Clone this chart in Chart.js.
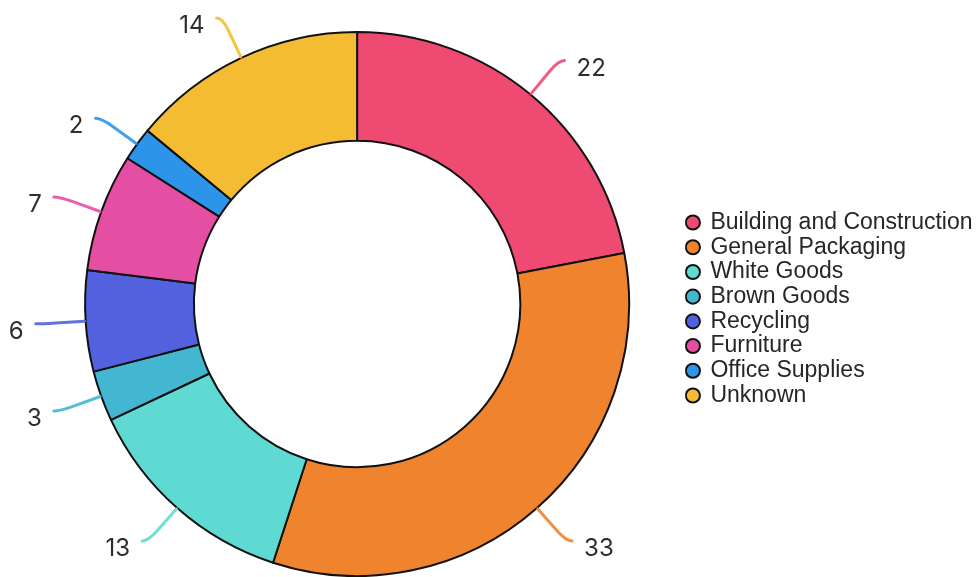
<!DOCTYPE html>
<html lang="en">
<head>
    <meta charset="UTF-8">
    <title>Sector Breakdown</title>
    <script src="https://cdn.jsdelivr.net/npm/chart.js"></script>
    <style>
        html, body { margin: 0; padding: 0; background: #ffffff; overflow: hidden; }
        .chart-wrap { position: relative; width: 979px; height: 577px; }
    </style>
</head>
<body>
    <div class="chart-wrap">
        <canvas id="sectorChart"></canvas>
    </div>

    <script>
        const sectors = ['Building and Construction', 'General Packaging', 'White Goods', 'Brown Goods',
                         'Recycling', 'Furniture', 'Office Supplies', 'Unknown'];
        const counts = [22, 33, 13, 3, 6, 7, 2, 14];
        const sectorColors = ['#EE4A72', '#F0842E', '#5FDAD2', '#43B6D2', '#5262DE', '#E54FA3', '#2C95EA', '#F3BC33'];

        // value labels outside each slice, joined by a curved leader line
        const outsideLabels = {
            id: 'outsideLabels',
            afterDatasetsDraw(chart) {
                const ctx = chart.ctx;
                const meta = chart.getDatasetMeta(0);
                ctx.save();
                meta.data.forEach((arc, i) => {
                    const mid = (arc.startAngle + arc.endAngle) / 2;
                    const cos = Math.cos(mid), sin = Math.sin(mid);
                    const R = arc.outerRadius;
                    const dir = cos >= 0 ? 1 : -1;
                    const x0 = arc.x + (R + 1) * cos, y0 = arc.y + (R + 1) * sin;
                    const xa = arc.x + (R + 30) * cos, ya = arc.y + (R + 30) * sin;
                    const xc = arc.x + (R + 44) * cos, yc = arc.y + (R + 44) * sin;
                    const xe = xc + dir * 6, ye = yc;

                    ctx.beginPath();
                    ctx.moveTo(x0, y0);
                    ctx.lineTo(xa, ya);
                    ctx.quadraticCurveTo(xc, yc, xe, ye);
                    ctx.strokeStyle = sectorColors[i];
                    ctx.globalAlpha = 0.9;
                    ctx.lineWidth = 3;
                    ctx.lineCap = 'round';
                    ctx.stroke();
                    ctx.globalAlpha = 1;

                    ctx.fillStyle = '#2e2e2e';
                    ctx.font = '24px Inter, "Noto Sans", sans-serif';
                    ctx.textBaseline = 'middle';
                    ctx.textAlign = dir > 0 ? 'left' : 'right';
                    ctx.fillText(String(counts[i]), xe + dir * 12, ye + 8);
                });
                ctx.restore();
            }
        };

        new Chart(document.getElementById('sectorChart'), {
            type: 'doughnut',
            data: {
                labels: sectors,
                datasets: [{
                    data: counts,
                    backgroundColor: sectorColors,
                    borderColor: '#111111',
                    borderWidth: 2
                }]
            },
            options: {
                responsive: true,
                maintainAspectRatio: false,
                animation: false,
                cutout: '60%',
                layout: { padding: { left: 29, right: -3.5, top: 31, bottom: 0 } },
                plugins: {
                    tooltip: { enabled: false },
                    legend: {
                        position: 'right',
                        // empty title only nudges the item list down a little
                        title: { display: true, text: '', padding: 0, font: { size: 10, lineHeight: 1 } },
                        labels: {
                            usePointStyle: true,
                            pointStyle: 'circle',
                            boxWidth: 12,
                            boxHeight: 10,
                            padding: 1.7,
                            color: '#262626',
                            font: { family: '"Liberation Sans", Arial, sans-serif', size: 23 }
                        }
                    }
                }
            },
            plugins: [outsideLabels]
        });
    </script>
</body>
</html>
